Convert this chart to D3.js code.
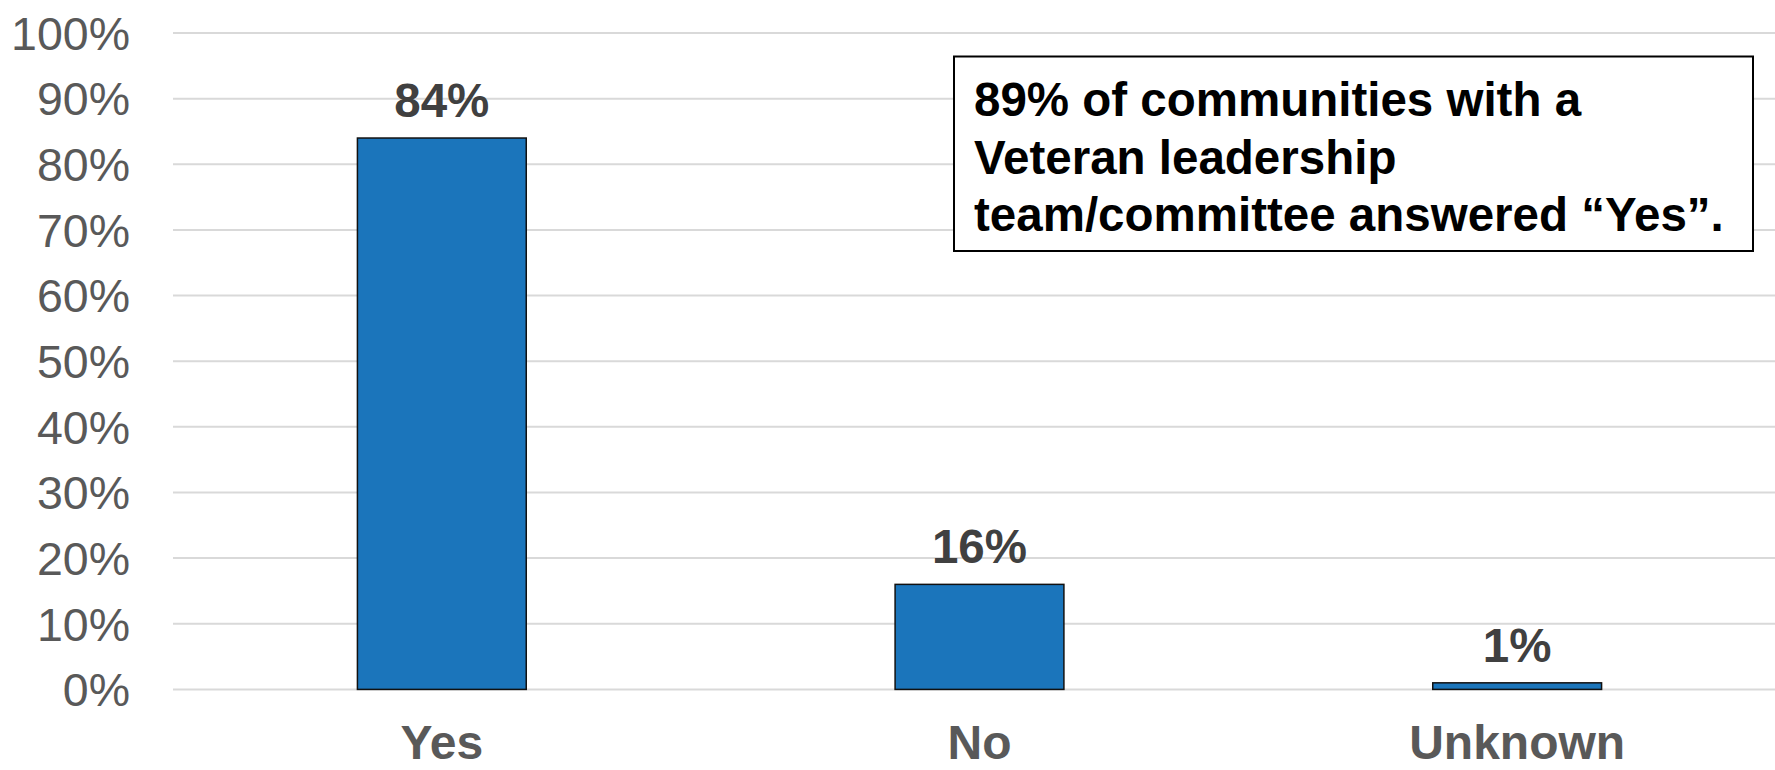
<!DOCTYPE html>
<html>
<head>
<meta charset="utf-8">
<script src="https://cdn.jsdelivr.net/npm/d3@7"></script>
<style>
  html, body { margin: 0; padding: 0; background: #fff; }
  svg { display: block; font-family: "Liberation Sans", Arial, sans-serif; }
</style>
</head>
<body>
<svg id="chart" width="1775" height="770"></svg>
<script>
// Survey responses (percent of communities)
const categories = ["Yes", "No", "Unknown"];
const values = [84, 16, 1];
const yTicks = [0, 10, 20, 30, 40, 50, 60, 70, 80, 90, 100];
const noteLines = [
  "89% of communities with a",
  "Veteran leadership",
  "team/committee answered \u201CYes\u201D."
];

const width = 1775, height = 770;
const margin = { top: 33, left: 173, bottom: 81 };
const plotBottom = height - margin.bottom + 0.4;

const svg = d3.select("#chart");

const x = d3.scaleBand()
  .domain(categories)
  .range([margin.left, 1786])
  .paddingInner(0.686)
  .paddingOuter(0.343);

const y = d3.scaleLinear()
  .domain([0, 100])
  .range([plotBottom, margin.top]);

// Horizontal gridlines
svg.append("g")
  .selectAll("line")
  .data(yTicks)
  .join("line")
  .attr("x1", margin.left)
  .attr("x2", width)
  .attr("y1", d => y(d))
  .attr("y2", d => y(d))
  .attr("stroke", "#d9d9d9")
  .attr("stroke-width", 2);

// Y axis labels
const yAxis = d3.axisLeft(y)
  .tickValues(yTicks)
  .tickFormat(d => d + "%")
  .tickSize(0)
  .tickPadding(0);

svg.append("g")
  .attr("transform", `translate(130,0)`)
  .call(yAxis)
  .call(g => g.select(".domain").remove())
  .call(g => g.selectAll("text")
    .attr("fill", "#595959")
    .attr("font-size", 46.5)
    .attr("dy", "0.35em")
    .style("font-family", "'Liberation Sans', Arial, sans-serif"));

// Bars
svg.append("g")
  .selectAll("rect")
  .data(values)
  .join("rect")
  .attr("x", (d, i) => x(categories[i]))
  .attr("width", x.bandwidth())
  .attr("y", d => y(d))
  .attr("height", d => y(0) - y(d))
  .attr("fill", "#1b75bb")
  .attr("stroke", "#111")
  .attr("stroke-width", 1.5);

// Value labels
svg.append("g")
  .selectAll("text")
  .data(values)
  .join("text")
  .attr("x", (d, i) => x(categories[i]) + x.bandwidth() / 2)
  .attr("y", d => y(d) - 21)
  .attr("text-anchor", "middle")
  .attr("font-size", 47.5)
  .attr("font-weight", "bold")
  .attr("fill", "#404040")
  .text(d => d + "%");

// Category labels
const xAxis = d3.axisBottom(x).tickSize(0).tickPadding(0);
svg.append("g")
  .attr("transform", `translate(0,${plotBottom})`)
  .call(xAxis)
  .call(g => g.select(".domain").remove())
  .call(g => g.selectAll("text")
    .attr("y", 69.5)
    .attr("dy", 0)
    .attr("fill", "#595959")
    .attr("font-size", 48)
    .attr("font-weight", "bold")
    .style("font-family", "'Liberation Sans', Arial, sans-serif"));

// Annotation box
const note = svg.append("g");
note.append("rect")
  .attr("x", 954)
  .attr("y", 56.5)
  .attr("width", 799)
  .attr("height", 194.5)
  .attr("fill", "#fff")
  .attr("stroke", "#000")
  .attr("stroke-width", 2);

note.selectAll("text")
  .data(noteLines)
  .join("text")
  .attr("x", 974)
  .attr("y", (d, i) => 116 + i * 57.5)
  .attr("font-size", 47.5)
  .attr("font-weight", "bold")
  .attr("fill", "#000")
  .text(d => d);
</script>
</body>
</html>
